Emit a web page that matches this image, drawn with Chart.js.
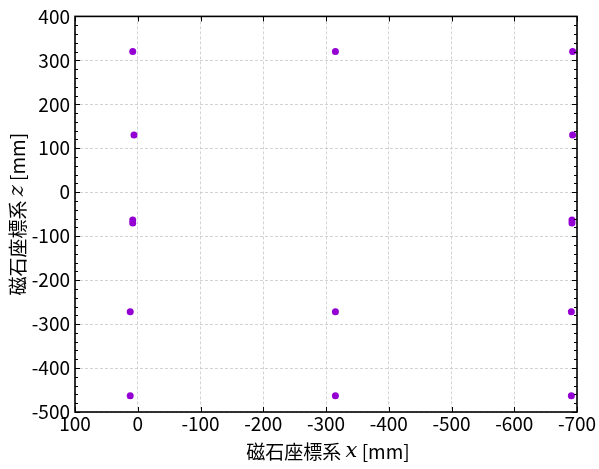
<html>
    <head>
        <style>
            body { margin: 0; background: #fff; }
        </style>
        <script src="https://cdn.jsdelivr.net/npm/chart.js"></script>
    </head>
    <body>
        <canvas id="chart" width="599" height="469"></canvas>
        <script>
            // magnet positions, x and z in mm
            var xValues = [8, 6, 8, 8, 12, 12,
                           -315, -315, -315,
                           -693, -693, -692, -692, -691, -691];
            var zValues = [320, 130, -63, -70, -272, -463,
                           320, -272, -463,
                           320, 130, -63, -70, -272, -463];
            var xTitle = ['磁石座標系 ', 'x', ' [mm]'];
            var yTitle = ['磁石座標系 ', 'z', ' [mm]'];

            var points = [];
            for (let i = 0; i < xValues.length; i++) {
                points.push({x: xValues[i], y: zValues[i]});
            }

            var cjk = '"Noto Sans CJK JP", "DejaVu Sans", sans-serif';
            var tickFont = {family: cjk, size: 19};

            function drawTitle(ctx, parts, cx, cy, rotate) {
                var fonts = ['19px ' + cjk, 'italic 21px "DejaVu Serif", serif', '19px ' + cjk];
                var widths = [];
                var total = 0;
                for (let i = 0; i < parts.length; i++) {
                    ctx.font = fonts[i];
                    widths[i] = ctx.measureText(parts[i]).width;
                    total += widths[i];
                }
                ctx.save();
                ctx.translate(cx, cy);
                if (rotate) ctx.rotate(-Math.PI / 2);
                ctx.fillStyle = '#000';
                ctx.textBaseline = 'middle';
                ctx.textAlign = 'left';
                var pos = -total / 2;
                for (let i = 0; i < parts.length; i++) {
                    ctx.font = fonts[i];
                    ctx.fillText(parts[i], pos, 0);
                    pos += widths[i];
                }
                ctx.restore();
            }

            // frame, inward ticks and axis titles (matplotlib look)
            var framePlugin = {
                id: 'frame',
                afterDraw: function(chart) {
                    var ctx = chart.ctx;
                    var a = chart.chartArea;
                    var xs = chart.scales.x;
                    var ys = chart.scales.y;
                    ctx.save();
                    ctx.strokeStyle = '#000';
                    ctx.lineWidth = 1;
                    ctx.beginPath();
                    xs.ticks.forEach(function(t) {
                        var px = Math.round(xs.getPixelForValue(t.value)) + 0.5;
                        ctx.moveTo(px, a.bottom); ctx.lineTo(px, a.bottom - 5);
                        ctx.moveTo(px, a.top); ctx.lineTo(px, a.top + 5);
                    });
                    for (let v = ys.min; v <= ys.max; v += 20) {
                        var py = Math.round(ys.getPixelForValue(v)) + 0.5;
                        var len = (v % 100 === 0) ? 5 : 3;
                        ctx.moveTo(a.left, py); ctx.lineTo(a.left + len, py);
                        ctx.moveTo(a.right, py); ctx.lineTo(a.right - len, py);
                    }
                    ctx.stroke();
                    ctx.lineWidth = 1.6;
                    ctx.strokeRect(a.left, a.top, a.right - a.left, a.bottom - a.top);
                    ctx.restore();

                    drawTitle(ctx, xTitle, (a.left + a.right) / 2 + 2, 452, false);
                    drawTitle(ctx, yTitle, 18, (a.top + a.bottom) / 2, true);
                }
            };

            var ctx = document.getElementById('chart').getContext('2d');
            var myChart = new Chart(ctx, {
                type: 'scatter',
                data: {
                    datasets: [{
                        data: points,
                        backgroundColor: '#9400d3',
                        borderColor: '#9400d3',
                        borderWidth: 0,
                        pointRadius: 3.5
                    }]
                },
                options: {
                    responsive: false,
                    animation: false,
                    layout: {
                        padding: {top: 16, right: 22, left: 0, bottom: 0}
                    },
                    plugins: {
                        legend: {display: false},
                        tooltip: {enabled: false}
                    },
                    scales: {
                        x: {
                            type: 'linear',
                            reverse: true,
                            min: -700,
                            max: 100,
                            afterFit: function(scale) { scale.height = 57; },
                            ticks: {
                                stepSize: 100,
                                color: '#000',
                                font: tickFont,
                                padding: 0,
                                maxRotation: 0
                            },
                            grid: {
                                color: '#c8c8c8',
                                lineWidth: 0.8,
                                drawTicks: false
                            },
                            border: {display: false, dash: [3, 2]}
                        },
                        y: {
                            min: -500,
                            max: 400,
                            afterFit: function(scale) { scale.width = 75; },
                            ticks: {
                                stepSize: 100,
                                color: '#000',
                                font: tickFont,
                                padding: 5
                            },
                            grid: {
                                color: '#c8c8c8',
                                lineWidth: 0.8,
                                drawTicks: false
                            },
                            border: {display: false, dash: [3, 2]}
                        }
                    }
                },
                plugins: [framePlugin]
            });
        </script>
    </body>
</html>
